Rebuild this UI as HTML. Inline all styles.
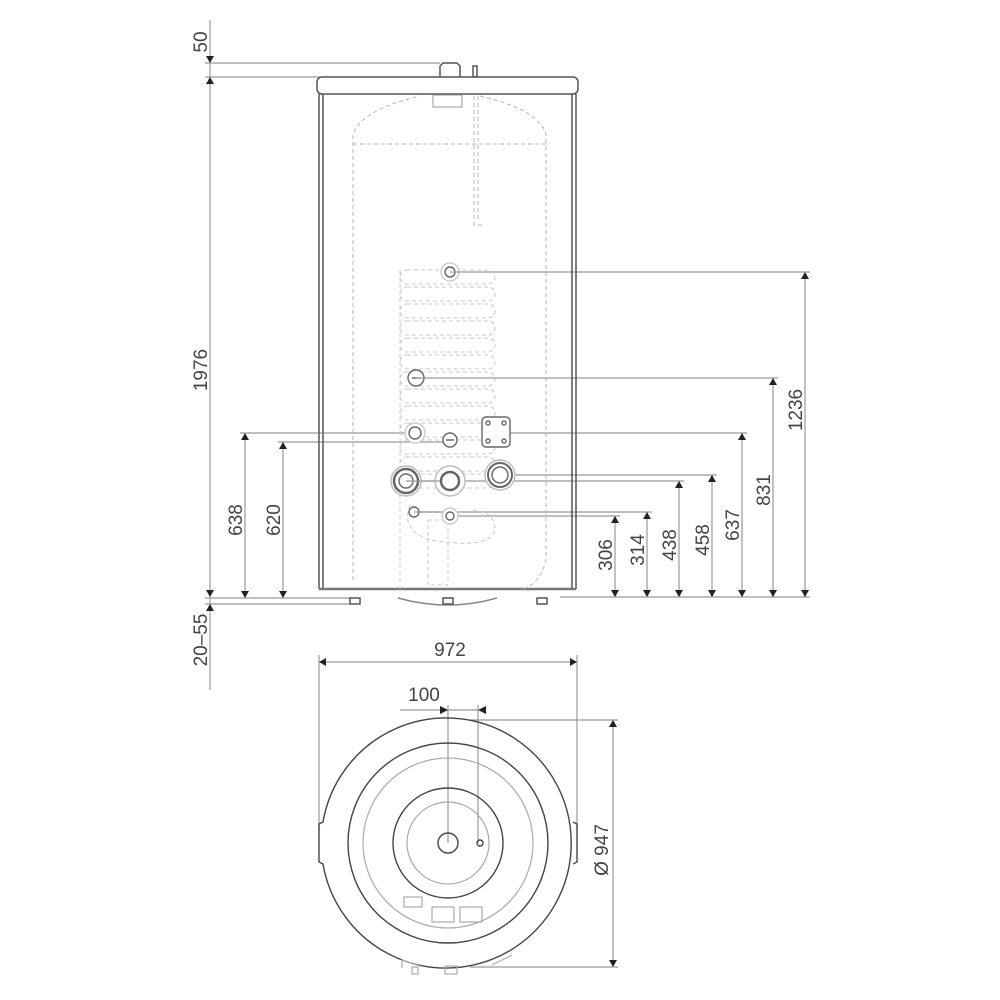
<!DOCTYPE html>
<html><head><meta charset="utf-8"><style>
html,body{margin:0;padding:0;background:#fff;}
svg{display:block;}
text{font-family:"Liberation Sans",sans-serif;font-size:19px;fill:#444;}
</style></head><body>
<svg width="1000" height="1000" viewBox="0 0 1000 1000" xmlns="http://www.w3.org/2000/svg">
<g stroke="#999" stroke-width="1.2" fill="none">
<line x1="210" y1="20" x2="210" y2="690"/>
<line x1="205" y1="63" x2="440" y2="63"/>
<line x1="205" y1="77" x2="320" y2="77"/>
<line x1="205" y1="598" x2="350" y2="598"/>
<line x1="205" y1="604" x2="350" y2="604"/>
<line x1="240" y1="433" x2="415" y2="433"/>
<line x1="278" y1="442" x2="450" y2="442"/>
<line x1="245" y1="433" x2="245" y2="598"/>
<line x1="283" y1="442" x2="283" y2="598"/>
<line x1="450" y1="272" x2="810" y2="272"/>
<line x1="416" y1="378" x2="778" y2="378"/>
<line x1="510" y1="433" x2="747" y2="433"/>
<line x1="500" y1="475" x2="717" y2="475"/>
<line x1="406" y1="481" x2="684" y2="481"/>
<line x1="414" y1="512" x2="652" y2="512"/>
<line x1="450" y1="516" x2="620" y2="516"/>
<line x1="560" y1="597" x2="810" y2="597"/>
<line x1="615" y1="516" x2="615" y2="597"/>
<line x1="647" y1="512" x2="647" y2="597"/>
<line x1="679" y1="481" x2="679" y2="597"/>
<line x1="712" y1="475" x2="712" y2="597"/>
<line x1="742" y1="433" x2="742" y2="597"/>
<line x1="773" y1="378" x2="773" y2="597"/>
<line x1="805" y1="272" x2="805" y2="597"/>
<line x1="319" y1="655" x2="319" y2="830"/>
<line x1="577" y1="655" x2="577" y2="830"/>
<line x1="319" y1="662" x2="577" y2="662"/>
<line x1="400" y1="710" x2="478" y2="710"/>
<line x1="448" y1="705" x2="448" y2="843"/>
<line x1="478" y1="705" x2="478" y2="843"/>
<line x1="470" y1="720" x2="618" y2="720"/>
<line x1="470" y1="967" x2="618" y2="967"/>
<line x1="613" y1="720" x2="613" y2="967"/>
</g>
<g stroke="none" fill="#222">
<path d="M206,56 L214,56 L210,63z"/><path d="M206,84 L214,84 L210,77z"/>
<path d="M206,590 L214,590 L210,597z"/><path d="M206,611 L214,611 L210,604z"/>
<path d="M241,440 L249,440 L245,433z"/><path d="M241,591 L249,591 L245,598z"/>
<path d="M279,449 L287,449 L283,442z"/><path d="M279,591 L287,591 L283,598z"/>
<path d="M611,523 L619,523 L615,516z"/><path d="M611,590 L619,590 L615,597z"/>
<path d="M643,519 L651,519 L647,512z"/><path d="M643,590 L651,590 L647,597z"/>
<path d="M675,488 L683,488 L679,481z"/><path d="M675,590 L683,590 L679,597z"/>
<path d="M708,482 L716,482 L712,475z"/><path d="M708,590 L716,590 L712,597z"/>
<path d="M738,440 L746,440 L742,433z"/><path d="M738,590 L746,590 L742,597z"/>
<path d="M769,385 L777,385 L773,378z"/><path d="M769,590 L777,590 L773,597z"/>
<path d="M801,279 L809,279 L805,272z"/><path d="M801,590 L809,590 L805,597z"/>
<path d="M326,658 L326,666 L319,662z"/><path d="M570,658 L570,666 L577,662z"/>
<path d="M440,706 L440,714 L448,710z"/><path d="M486,706 L486,714 L478,710z"/>
<path d="M609,727 L617,727 L613,720z"/><path d="M609,960 L617,960 L613,967z"/>
</g>
<g stroke="#555" stroke-width="1.5" fill="none">
<rect x="317" y="77" width="261" height="17" rx="5"/>
<line x1="319" y1="94" x2="319" y2="589"/><line x1="323" y1="94" x2="323" y2="589"/>
<line x1="572" y1="94" x2="572" y2="589"/><line x1="576" y1="94" x2="576" y2="589"/>
<line x1="319" y1="589" x2="576" y2="589" stroke-width="2.5" stroke="#777"/>
<path d="M440,77 L440,66 L443,63 L457,63 L460,66 L460,77" />
<rect x="473" y="66" width="4" height="11"/>
<path d="M398,598 Q448,612 497,598" stroke="#888"/>
<rect x="443" y="598" width="10" height="6"/><rect x="537" y="598" width="10" height="6"/>
<rect x="350" y="598" width="10" height="6"/>
</g>
<g stroke="#b5b5b5" stroke-width="1" fill="none" stroke-dasharray="4,3">
<path d="M353,580 L353,135 Q360,110 420,96 M480,96 Q540,110 546,135 L546,560 Q540,585 520,590"/>
<line x1="353" y1="144" x2="546" y2="144"/>
<line x1="474" y1="96" x2="474" y2="222"/><line x1="478" y1="96" x2="478" y2="222"/>
<path d="M474,222 L474,225 L484,225"/>
</g>
<g stroke="#c8c8c8" stroke-width="1" fill="none" stroke-dasharray="4,3">
<rect x="400" y="270" width="95" height="14" rx="7"/>
<rect x="400" y="287" width="95" height="14" rx="7"/>
<rect x="400" y="304" width="95" height="14" rx="7"/>
<rect x="400" y="321" width="95" height="14" rx="7"/>
<rect x="400" y="338" width="95" height="14" rx="7"/>
<rect x="400" y="355" width="95" height="14" rx="7"/>
<rect x="400" y="372" width="95" height="14" rx="7"/>
<rect x="400" y="389" width="95" height="14" rx="7"/>
<rect x="400" y="406" width="95" height="14" rx="7"/>
<rect x="400" y="423" width="95" height="14" rx="7"/>
<rect x="400" y="440" width="95" height="14" rx="7"/>
<rect x="400" y="457" width="95" height="14" rx="7"/>
<rect x="400" y="474" width="95" height="14" rx="7"/>
<path d="M410,505 Q400,530 430,540 Q490,550 495,530 Q495,510 470,510"/>
<rect x="428" y="520" width="20" height="65"/>
<line x1="400" y1="270" x2="400" y2="590"/>
</g>
<rect x="433" y="95" width="29" height="12" fill="none" stroke="#999"/>
<g fill="#fff" stroke="#666" stroke-width="1.4">
<circle cx="450" cy="272" r="9" stroke="#ccc"/><circle cx="450" cy="272" r="5"/>
<circle cx="416" cy="378" r="8"/><line x1="412" y1="378" x2="420" y2="378"/>
<circle cx="415" cy="433" r="10" stroke="#ccc"/><circle cx="415" cy="433" r="6"/>
<circle cx="450" cy="440" r="7"/><line x1="446" y1="440" x2="454" y2="440"/>
<rect x="482" y="417" width="28" height="30" rx="4"/>
<circle cx="488" cy="423" r="2"/><circle cx="504" cy="423" r="2"/><circle cx="488" cy="441" r="2"/><circle cx="504" cy="441" r="2"/>
<circle cx="406" cy="481" r="15" stroke="#bbb"/><circle cx="406" cy="481" r="12" stroke-width="2.5"/><circle cx="406" cy="481" r="7"/>
<circle cx="450" cy="481" r="15" stroke="#bbb"/><circle cx="450" cy="481" r="9" stroke-width="2.5"/>
<circle cx="500" cy="475" r="15" stroke="#bbb"/><circle cx="500" cy="475" r="12" stroke-width="2"/><circle cx="500" cy="475" r="8"/>
<circle cx="414" cy="512" r="5"/>
<circle cx="450" cy="516" r="8" stroke="#ccc"/><circle cx="450" cy="516" r="4"/>
</g>
<g stroke="#999" stroke-width="1.2">
<line x1="450" y1="272" x2="460" y2="272"/><line x1="416" y1="378" x2="425" y2="378"/>
<line x1="406" y1="481" x2="440" y2="481"/><line x1="414" y1="512" x2="440" y2="512"/>
</g>
<g fill="none" stroke="#444" stroke-width="1.4">
<path d="M323,822 A125,125 0 1 1 323,864 L319,862 L319,824 Z"/>
<path d="M573,822 L577,824 L577,862 L573,864"/>
<circle cx="448" cy="843" r="100"/>
<circle cx="448" cy="843" r="55"/>
<circle cx="448" cy="843" r="10"/>
<circle cx="480" cy="843" r="3"/>
</g>
<g fill="none" stroke="#aaa" stroke-width="1.2">
<circle cx="448" cy="843" r="85"/>
<circle cx="448" cy="843" r="41"/>
<rect x="404" y="897" width="18" height="10"/>
<rect x="432" y="907" width="22" height="15"/>
<rect x="460" y="907" width="22" height="15"/>
<path d="M402,968 L402,960 L420,966"/><rect x="412" y="967" width="6" height="7"/><rect x="445" y="966" width="12" height="8"/>
<path d="M492,965 L512,955"/>
</g>
<text transform="translate(207,42) rotate(-90)" text-anchor="middle">50</text>
<text transform="translate(207,370) rotate(-90)" text-anchor="middle">1976</text>
<text transform="translate(242,520) rotate(-90)" text-anchor="middle">638</text>
<text transform="translate(280,520) rotate(-90)" text-anchor="middle">620</text>
<text transform="translate(207,640) rotate(-90)" text-anchor="middle">20–55</text>
<text transform="translate(612,555) rotate(-90)" text-anchor="middle">306</text>
<text transform="translate(644,550) rotate(-90)" text-anchor="middle">314</text>
<text transform="translate(676,545) rotate(-90)" text-anchor="middle">438</text>
<text transform="translate(709,540) rotate(-90)" text-anchor="middle">458</text>
<text transform="translate(739,525) rotate(-90)" text-anchor="middle">637</text>
<text transform="translate(770,490) rotate(-90)" text-anchor="middle">831</text>
<text transform="translate(802,410) rotate(-90)" text-anchor="middle">1236</text>
<text x="450" y="656" text-anchor="middle">972</text>
<text x="424" y="701" text-anchor="middle">100</text>
<text transform="translate(608,850) rotate(-90)" text-anchor="middle">Ø 947</text>
</svg>
</body></html>
